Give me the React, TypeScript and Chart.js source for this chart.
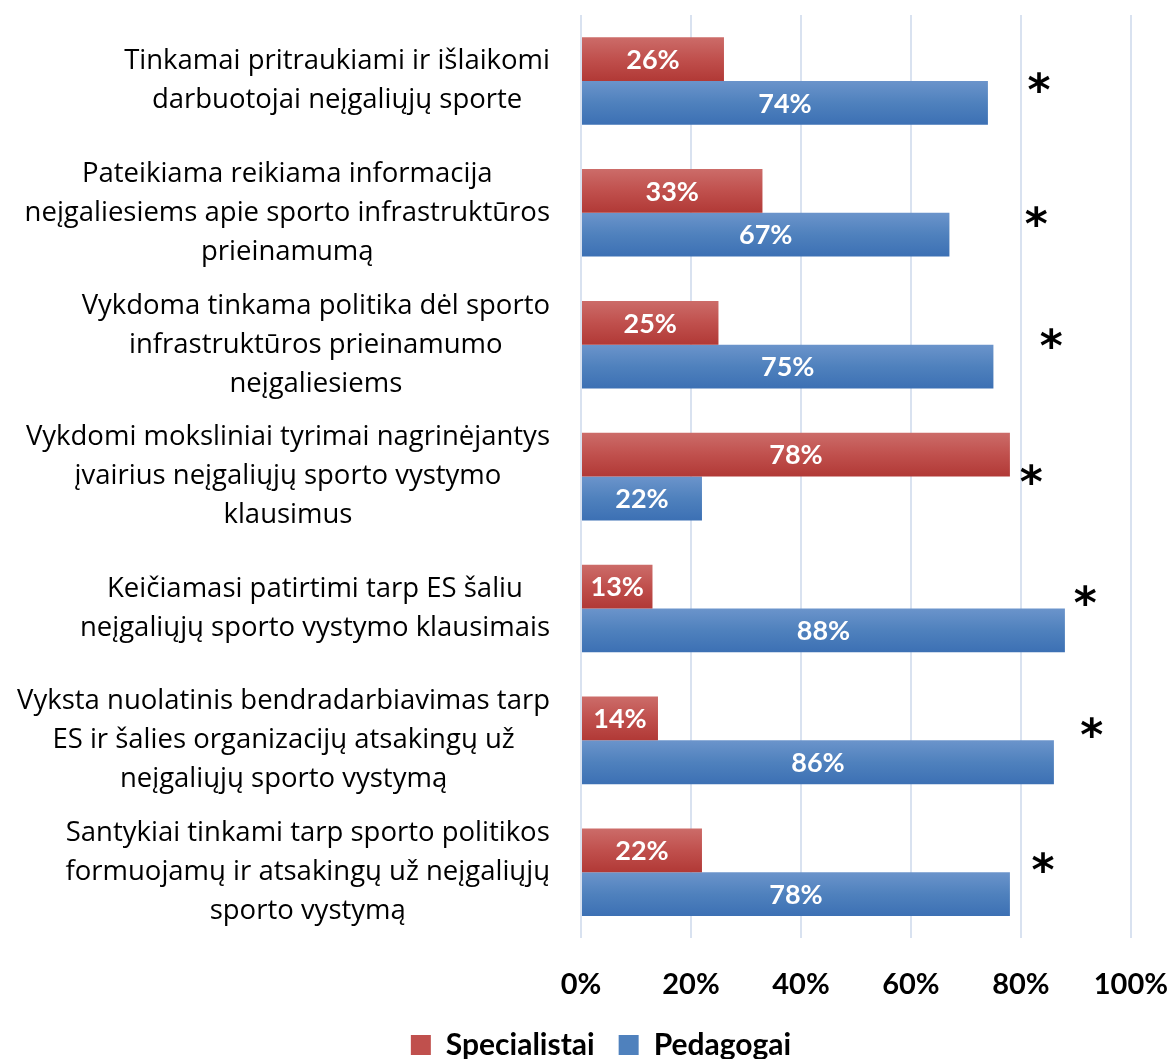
import React, { useEffect, useRef } from "react";
import { Chart, registerables } from "chart.js";

Chart.register(...registerables);

const categories: string[][] = [
  ["Tinkamai pritraukiami ir išlaikomi", "darbuotojai neįgaliųjų sporte"],
  ["Pateikiama reikiama informacija", "neįgaliesiems apie sporto infrastruktūros", "prieinamumą"],
  ["Vykdoma tinkama politika dėl sporto", "infrastruktūros prieinamumo", "neįgaliesiems"],
  ["Vykdomi moksliniai tyrimai nagrinėjantys", "įvairius neįgaliųjų sporto vystymo", "klausimus"],
  ["Keičiamasi patirtimi tarp ES šaliu", "neįgaliųjų sporto vystymo klausimais"],
  ["Vyksta nuolatinis bendradarbiavimas tarp", "ES ir šalies organizacijų atsakingų už", "neįgaliųjų sporto vystymą"],
  ["Santykiai tinkami tarp sporto politikos", "formuojamų ir atsakingų už neįgaliųjų", "sporto vystymą"],
];

const specialistai: number[] = [26, 33, 25, 78, 13, 14, 22];
const pedagogai: number[] = [74, 67, 75, 22, 88, 86, 78];

// asterisk markers: x position in % of axis, vertical shift in fraction of a category band
const asteriskX: number[] = [83.3, 82.8, 85.5, 81.9, 91.7, 92.9, 84.0];
const asteriskShift: number[] = [0.015, 0.03, -0.045, -0.015, -0.1, -0.1, -0.075];

const xTicks: number[] = [0, 20, 40, 60, 80, 100];

const CAT_PCT = 0.664;
const NUM_FONT = "Lato, 'Open Sans', sans-serif";
const TEXT_FONT = "'Open Sans', Lato, sans-serif";

const RED = { top: "#cc6c69", mid: "#c0504d", bot: "#b13936" };
const BLUE = { top: "#6b94cb", mid: "#4f81bd", bot: "#3c70b4" };

function gradFor(col: { top: string; mid: string; bot: string }, di: number) {
  return (ctx: any) => {
    const chart = ctx.chart;
    const ys = chart.scales?.y;
    if (!ys || ctx.type !== "data" || !ys.height) return col.mid;
    const i = ctx.dataIndex;
    const c = ys.getPixelForValue(i);
    const band = ys.height / categories.length;
    const bh = (band * CAT_PCT) / 2;
    const y0 = di === 0 ? c - bh : c;
    const y1 = y0 + bh;
    if (!isFinite(y0) || !isFinite(y1)) return col.mid;
    const g = chart.ctx.createLinearGradient(0, y0, 0, y1);
    g.addColorStop(0, col.top);
    g.addColorStop(0.5, col.mid);
    g.addColorStop(1, col.bot);
    return g;
  };
}

const overlayPlugin = {
  id: "overlay",
  afterDatasetsDraw(chart: any) {
    const ctx = chart.ctx;
    const ys = chart.scales.y;
    const xs = chart.scales.x;
    const area = chart.chartArea;
    ctx.save();
    // data labels
    ctx.font = `bold 27px ${NUM_FONT}`;
    ctx.fillStyle = "#ffffff";
    ctx.textAlign = "center";
    ctx.textBaseline = "middle";
    chart.data.datasets.forEach((ds: any, di: number) => {
      const meta = chart.getDatasetMeta(di);
      meta.data.forEach((el: any, i: number) => {
        const cx = (el.x + el.base) / 2;
        ctx.fillText(`${ds.data[i]}%`, cx, el.y + 1);
      });
    });
    // category labels
    const band = ys.height / categories.length;
    ctx.font = `27.5px ${TEXT_FONT}`;
    ctx.fillStyle = "#000000";
    categories.forEach((lines, i) => {
      const c = ys.getPixelForValue(i);
      const maxW = Math.max(...lines.map((l) => ctx.measureText(l).width));
      const cx = area.left - 31 - maxW / 2;
      const lh = 39;
      lines.forEach((l, j) => {
        ctx.fillText(l, cx, c + (j - (lines.length - 1) / 2) * lh);
      });
    });
    // asterisks
    ctx.font = `bold 44px 'DejaVu Sans', sans-serif`;
    ctx.fillStyle = "#000000";
    ctx.textBaseline = "alphabetic";
    const m = ctx.measureText("*");
    const off = (m.actualBoundingBoxAscent - m.actualBoundingBoxDescent) / 2;
    asteriskX.forEach((ax, i) => {
      const px = xs.getPixelForValue(ax);
      const py = ys.getPixelForValue(i) + asteriskShift[i] * band;
      ctx.fillText("*", px, py + off);
    });
    ctx.restore();
  },
};

export default function App() {
  const ref = useRef<HTMLCanvasElement | null>(null);
  useEffect(() => {
    document.body.style.margin = "0";
    const canvas = ref.current!;
    const chart = new Chart(canvas, {
      type: "bar",
      data: {
        labels: categories.map((c) => c.join(" ")),
        datasets: [
          {
            label: "Specialistai",
            data: specialistai,
            backgroundColor: gradFor(RED, 0),
            categoryPercentage: CAT_PCT,
            barPercentage: 1,
          },
          {
            label: "Pedagogai",
            data: pedagogai,
            backgroundColor: gradFor(BLUE, 1),
            categoryPercentage: CAT_PCT,
            barPercentage: 1,
          },
        ],
      },
      options: {
        indexAxis: "y",
        responsive: false,
        animation: false,
        devicePixelRatio: 1,
        layout: { padding: { left: 70, right: 40, top: 15, bottom: -11 } },
        scales: {
          x: {
            min: 0,
            max: 100,
            afterBuildTicks: (axis: any) => {
              axis.ticks = xTicks.map((v) => ({ value: v }));
            },
            grid: {
              color: "#d9e2f0",
              lineWidth: 2,
              drawTicks: true,
              tickLength: 25,
              tickColor: "rgba(0,0,0,0)",
            },
            border: { display: false },
            ticks: {
              padding: 4,
              color: "#000000",
              font: { family: NUM_FONT, size: 29, weight: "bold" },
              callback: (v: any) => `${v}%`,
            },
          },
          y: {
            display: true,
            grid: { display: false },
            border: { display: false },
            ticks: { display: false },
            afterFit: (s: any) => {
              s.width = 511;
            },
          },
        },
        plugins: {
          tooltip: { enabled: false },
          legend: {
            position: "bottom",
            labels: {
              padding: 24,
              boxWidth: 20,
              boxHeight: 20,
              color: "#000000",
              font: { family: NUM_FONT, size: 30, weight: "bold" },
              generateLabels: (chart: any) =>
                chart.data.datasets.map((ds: any, i: number) => ({
                  text: ds.label,
                  fillStyle: i === 0 ? RED.mid : BLUE.mid,
                  strokeStyle: i === 0 ? RED.mid : BLUE.mid,
                  lineWidth: 0,
                  fontColor: "#000000",
                  datasetIndex: i,
                  hidden: false,
                })),
            },
          },
        },
      },
      plugins: [overlayPlugin],
    });
    return () => chart.destroy();
  }, []);
  return (
    <div style={{ width: 1172, height: 1059 }}>
      <canvas ref={ref} width={1172} height={1059} style={{ width: 1172, height: 1059, display: "block" }} />
    </div>
  );
}
